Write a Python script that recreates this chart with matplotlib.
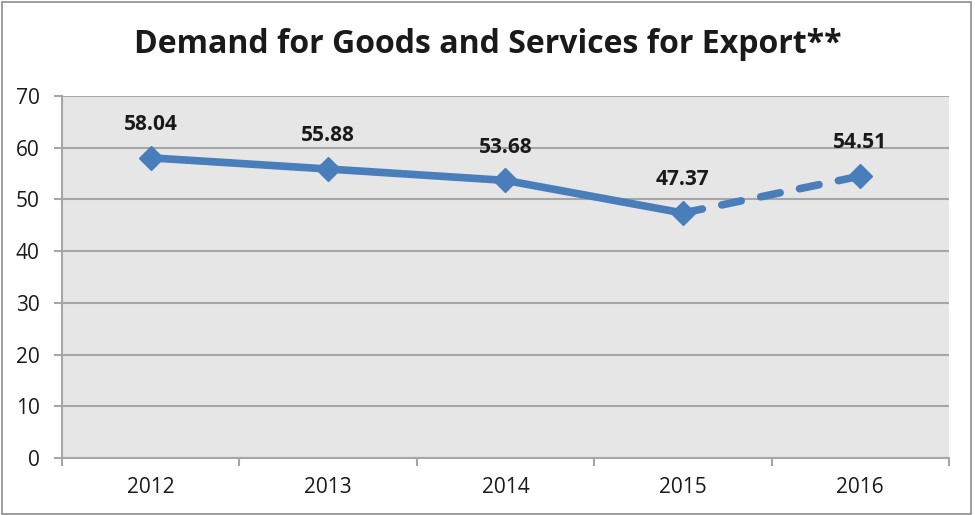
import matplotlib.pyplot as plt
from matplotlib.patches import Rectangle

plt.rcParams['font.family'] = ['Open Sans', 'DejaVu Sans']

years = ['2012', '2013', '2014', '2015', '2016']
demand = [58.04, 55.88, 53.68, 47.37, 54.51]
labels = ['58.04', '55.88', '53.68', '47.37', '54.51']

blue = '#4a7ebb'
grid = '#a6a6a6'

fig = plt.figure(figsize=(9.75, 5.15), dpi=100)
ax = fig.add_axes([0.0636, 0.1107, 0.9097, 0.7029])
ax.set_facecolor('#e6e6e6')

x = list(range(len(years)))
# actual part solid, last one dashed
ax.plot(x[:4], demand[:4], color=blue, lw=5.5, solid_capstyle='round', zorder=3)
ax.plot(x[3:], demand[3:], color=blue, lw=5.5, ls=(0, (2.6, 2.6)),
        dash_capstyle='round', zorder=3)
ax.plot(x, demand, ls='none', marker='D', ms=12, color=blue, zorder=4)

for xi, v, lab in zip(x, demand, labels):
    ax.annotate(lab, (xi, v), xytext=(0, 24), textcoords='offset points',
                ha='center', va='center', fontsize=15, fontweight='bold',
                color='#1a1a1a')

ax.set_xlim(-0.5, 4.5)
ax.set_ylim(0, 70)
ax.set_yticks(range(0, 71, 10))
ax.yaxis.grid(True, color=grid, lw=1.5)
ax.set_axisbelow(True)

ax.set_xticks(x)
ax.set_xticklabels(years)
ax.set_xticks([i - 0.5 for i in range(6)], minor=True)
ax.tick_params(axis='x', which='major', length=0, pad=14, labelsize=15,
               labelcolor='#1a1a1a')
ax.tick_params(axis='x', which='minor', length=6, width=1.5, color=grid)
ax.tick_params(axis='y', length=6, width=1.5, color=grid, pad=10,
               labelsize=15, labelcolor='#1a1a1a')

for s in ['top', 'right']:
    ax.spines[s].set_visible(False)
for s in ['left', 'bottom']:
    ax.spines[s].set_color(grid)
    ax.spines[s].set_linewidth(1.5)

fig.text(0.5, 0.913, 'Demand for Goods and Services for Export**',
         ha='center', va='center', fontsize=23, fontweight='bold',
         color='#1a1a1a')

fig.patches.append(Rectangle((0.002, 0.002), 0.994, 0.994,
                             transform=fig.transFigure, fill=False,
                             edgecolor='#8c8c8c', lw=1.2))

fig.savefig('out.png', dpi=100)
